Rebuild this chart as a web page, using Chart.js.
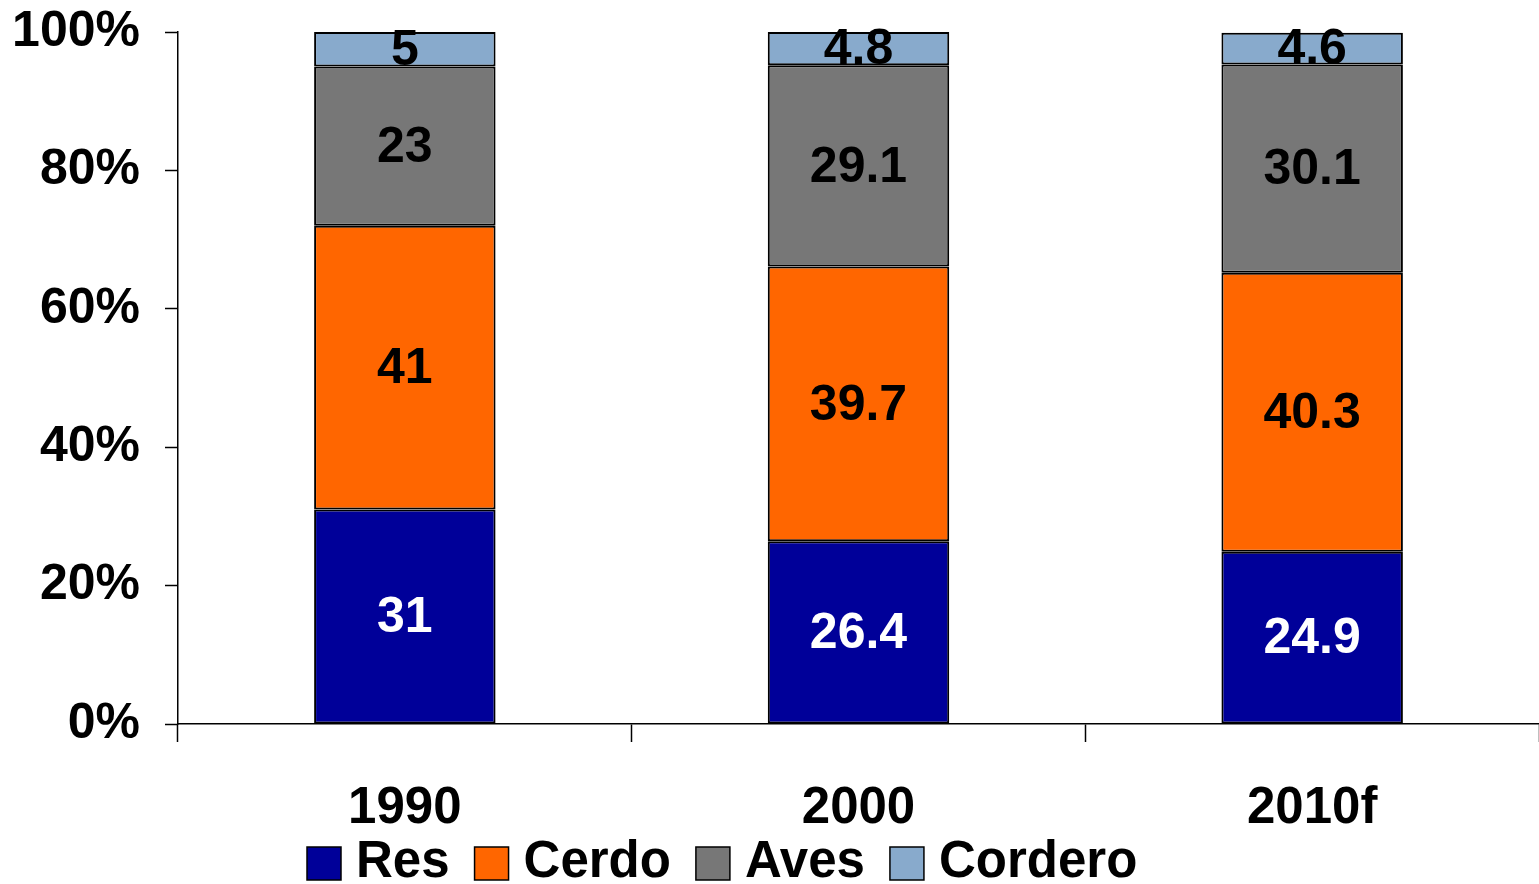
<!DOCTYPE html>
<html>
<head>
<meta charset="utf-8">
<script src="https://cdn.jsdelivr.net/npm/chart.js@4.4.1/dist/chart.umd.min.js"></script>
<style>
html, body { margin: 0; padding: 0; background: #fff; }
#wrap { width: 1539px; height: 884px; }
</style>
</head>
<body>
<div id="wrap"><canvas id="chart" width="1539" height="884"></canvas></div>
<script>
// categories and series
const categories = ["1990", "2000", "2010f"];
const res = [31, 26.4, 24.9];
const cerdo = [41, 39.7, 40.3];
const aves = [23, 29.1, 30.1];
const cordero = [5, 4.8, 4.6];
const yTicks = [0, 20, 40, 60, 80, 100];

const FONT = "'Liberation Sans', Arial, sans-serif";

/* value labels in the middle of each segment */
const segmentLabels = {
  id: "segmentLabels",
  afterDatasetsDraw(chart){
    const ctx = chart.ctx;
    ctx.save();
    ctx.font = "bold 50px " + FONT;
    ctx.textAlign = "center";
    ctx.textBaseline = "middle";
    chart.data.datasets.forEach((ds, i) => {
      const meta = chart.getDatasetMeta(i);
      meta.data.forEach((bar, j) => {
        const p = bar.getCenterPoint();
        ctx.fillStyle = ds.labelColor;
        ctx.fillText(String(ds.data[j]), p.x, p.y + 2);
      });
    });
    ctx.restore();
  }
};

/* legend row under the axis, tighter than the built-in one */
const bottomLegend = {
  id: "bottomLegend",
  afterDraw(chart){
    const ctx = chart.ctx;
    ctx.save();
    ctx.font = "bold 51px " + FONT;
    ctx.textAlign = "left";
    ctx.textBaseline = "middle";
    let x = 307;
    const yMid = 863;
    chart.data.datasets.forEach(ds => {
      ctx.fillStyle = ds.backgroundColor;
      ctx.fillRect(x, yMid - 16, 34, 33);
      ctx.lineWidth = 1.5;
      ctx.strokeStyle = "#000";
      ctx.strokeRect(x, yMid - 16, 34, 33);
      x += 34 + 15;
      ctx.fillStyle = "#000";
      ctx.fillText(ds.label, x, yMid);
      x += ctx.measureText(ds.label).width + 25;
    });
    ctx.restore();
  }
};

function makeSet(label, data, color, labelColor){
  return {
    label: label,
    data: data,
    backgroundColor: color,
    borderColor: "#000",
    borderWidth: 2,
    borderSkipped: false,
    labelColor: labelColor,
    barPercentage: 0.4,
    categoryPercentage: 1.0
  };
}

new Chart(document.getElementById("chart"), {
  type: "bar",
  data: {
    labels: categories,
    datasets: [
      makeSet("Res", res, "#000099", "#fff"),
      makeSet("Cerdo", cerdo, "#FF6600", "#000"),
      makeSet("Aves", aves, "#777777", "#000"),
      makeSet("Cordero", cordero, "#88AACC", "#000")
    ]
  },
  options: {
    responsive: false,
    animation: false,
    layout: { padding: { top: 32, right: 0, bottom: 0, left: 0 } },
    plugins: {
      tooltip: { enabled: false },
      legend: { display: false }
    },
    scales: {
      x: {
        stacked: true,
        grid: {
          display: true,
          drawOnChartArea: false,
          offset: true,
          color: "#000",
          tickLength: 18,
          tickWidth: 1.5
        },
        border: { color: "#000", width: 1.5 },
        ticks: {
          color: "#000",
          font: { family: FONT, size: 51, weight: "bold" },
          padding: 36,
          maxRotation: 0
        },
        afterFit(scale){
          scale.height = 160;
          scale.paddingLeft = 0;
          scale.paddingRight = 0;
        }
      },
      y: {
        stacked: true,
        min: 0,
        max: 100,
        afterBuildTicks(scale){ scale.ticks = yTicks.map(v => ({ value: v })); },
        grid: {
          display: true,
          drawOnChartArea: false,
          color: "#000",
          tickLength: 13,
          tickWidth: 1.5
        },
        border: { color: "#000", width: 1.5 },
        ticks: {
          color: "#000",
          font: { family: FONT, size: 50, weight: "bold" },
          padding: 25,
          callback: v => v + "%"
        },
        afterFit(scale){
          scale.width = 178;
          scale.paddingTop = 0;
          scale.paddingBottom = 0;
        }
      }
    }
  },
  plugins: [segmentLabels, bottomLegend]
});
</script>
</body>
</html>
